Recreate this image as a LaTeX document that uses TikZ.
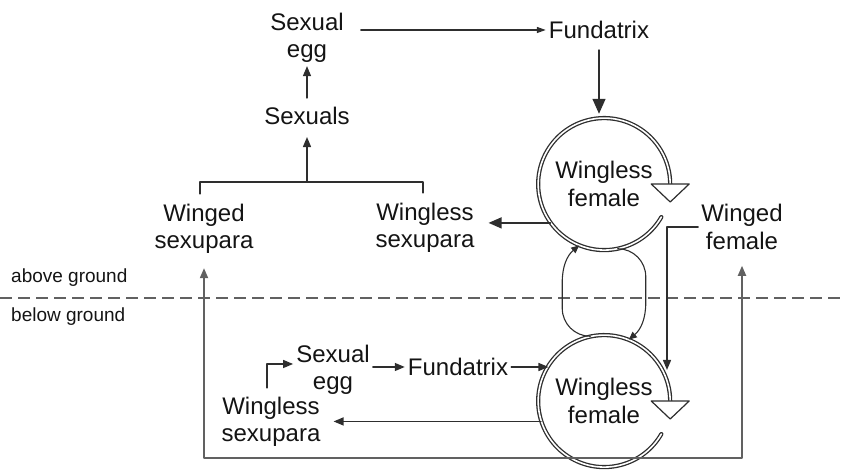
\documentclass[tikz,border=0pt]{standalone}
\usepackage{fontspec}
\setmainfont{Liberation Sans}
\usetikzlibrary{arrows.meta}
\definecolor{sqsqsq}{rgb}{0.08,0.08,0.08}
\definecolor{zzzzzz}{rgb}{0.18,0.18,0.18}
\definecolor{wwwwww}{rgb}{0.38,0.38,0.38}

\begin{document}
\begin{tikzpicture}[line cap=round,line join=round,>={Triangle[length=10pt,width=8pt]},x=1pt,y=1pt,
    lbl/.style={text=sqsqsq,align=center,font=\fontsize{24}{27.5}\selectfont,inner sep=3pt},
    gnd/.style={text=sqsqsq,font=\fontsize{19}{22}\selectfont,inner sep=0pt,anchor=west},
    ring/.style={circle,minimum size=132pt,inner sep=0pt},
    ln/.style={color=zzzzzz,line width=1.4pt}]
        \useasboundingbox (0,0) rectangle (841,470);
        % above ground
        \node[lbl] (egg1) at (307,432) {Sexual\\egg};
        \node[lbl] (fund1) at (599,440) {Fundatrix};
        \node[lbl] (sexuals) at (307,354) {Sexuals};
        \node[lbl] (wsex) at (204,241) {Winged\\sexupara};
        \node[lbl] (wlsex) at (425,242) {Wingless\\sexupara};
        \node[lbl,ring] (c1) at (604,286) {Wingless\\female};
        \node[lbl] (wingf) at (742,243) {Winged\\female};
        % below ground
        \node[lbl,ring] (c2) at (604,69) {Wingless\\female};
        \node[lbl] (egg2) at (333,100) {Sexual\\egg};
        \node[lbl] (fund2) at (458,103) {Fundatrix};
        \node[lbl] (wlsex2) at (271,48) {Wingless\\sexupara};
        \node[gnd] (above) at (11,192) {above ground};
        \node[gnd] (below) at (11,153) {below ground};
        \coordinate (join) at (307,288);
        \coordinate (root) at (604,12);
        \coordinate (drop) at (667,100);
        \draw[color=wwwwww,line width=1.5pt,line cap=butt,dash pattern=on 12pt off 6pt] (0,172) -- (841,172);
        % parthenogenetic cycles
        \foreach \c in {c1,c2}
        {
        \draw[color=zzzzzz,line width=1.3pt,double=white,double distance=1.6pt] (\c.-30) arc[start angle=-30,end angle=-360,radius=66];
        \draw[color=zzzzzz,line width=1.2pt,fill=white] (\c.east) ++(-19,0) -- ++(38,0) -- ++(-19,-18) -- cycle;
        }
        \draw[->,color=zzzzzz,line width=1.1pt,>={Triangle[length=8pt,width=7pt]}] (c2.102) to[out=180,in=-90] ++(-28,28) -- ++(0,26) to[out=90,in=-140] (c1.-112);
        \draw[->,color=zzzzzz,line width=1.1pt,>={Triangle[length=8pt,width=7pt]}] (c1.-78) to[out=0,in=90] ++(28,-28) -- ++(0,-26) to[out=-90,in=40] (c2.68);
        % connectors
        \draw[->,ln,shorten <=14pt,>={Triangle[length=9pt,width=6pt]}] (egg1.east |- fund1.west) -- (fund1.west);
        \draw[->,ln,shorten <=8pt,shorten >=4pt,>={Triangle[length=15pt,width=13pt]}] (fund1.south) -- (fund1.south |- c1.north);
        \draw[->,ln,shorten <=6pt] (sexuals.north) -- (egg1.south);
        \draw[ln] ([shift={(-4,7)}]wsex.north) |- (join) -| ([shift={(-2,7)}]wlsex.north);
        \draw[->,ln,shorten >=9pt] (join) -- (sexuals.south);
        \draw[->,ln,shorten >=11pt,>={Triangle[length=13pt,width=11pt]}] (c1.216) -- (c1.216 -| wlsex.east);
        \draw[->,ln] (wingf.west) -| (drop);
        \draw[->,ln,line width=1.8pt,color=wwwwww,shorten >=11pt] (root) -| (wsex.south);
        \draw[->,ln,line width=1.8pt,color=wwwwww,shorten >=13pt] (root) -| (wingf.south);
        \draw[->,ln] ([shift={(-4,6)}]wlsex2.north) |- ([yshift=6]egg2.west);
        \draw[->,ln] (egg2.east |- fund2.west) -- (fund2.west);
        \draw[->,ln] (fund2.east) -- (fund2.east -| c2.147);
        \draw[->,ln,shorten >=10pt] (c2.198) -- (c2.198 -| wlsex2.east);
    \end{tikzpicture}
\end{document}
